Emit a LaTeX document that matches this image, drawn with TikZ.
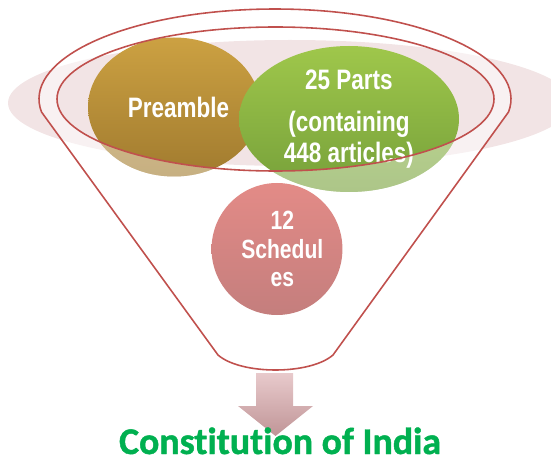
\documentclass[tikz,border=0pt]{standalone}
\usepackage{fontspec}
\usetikzlibrary{shapes.geometric,calc}
\newfontfamily\labfont[FakeStretch=0.8]{Liberation Sans}
\newfontfamily\ttlfont[Ligatures=CommonOff, FakeBold=1.2]{Carlito Bold}
\definecolor{funred}{HTML}{C0504D}
\definecolor{bgpink}{HTML}{F2E4E5}
\definecolor{preT}{HTML}{CCA142}
\definecolor{preB}{HTML}{A17B2F}
\definecolor{grnT}{HTML}{9FC74B}
\definecolor{grnB}{HTML}{76A03A}
\definecolor{schT}{HTML}{E38B87}
\definecolor{schB}{HTML}{C47E7D}
\definecolor{ttlgreen}{HTML}{00B050}
\definecolor{arrT}{HTML}{E8CACC}
\definecolor{arrB}{HTML}{C09597}
\def\u{0.02cm}
\tikzset{
  blob/.style={ellipse, draw=none, inner sep=0pt, text=white, align=center,
    font=\labfont\bfseries\fontsize{16pt}{18pt}\selectfont},
  funnelline/.style={draw=funred, line width=0.9pt, line join=round},
}
\begin{document}
\begin{tikzpicture}[x=0.02cm, y=-0.02cm]
\useasboundingbox (0,0) rectangle (551,459);
% background pink ellipse
\fill[bgpink] (290,103) ellipse [x radius=282*\u, y radius=63*\u];
% funnel geometry
\coordinate (ic) at (275.5,99);
\coordinate (fl) at (41.5,112);
\coordinate (fr) at (508.5,112);
\coordinate (bl) at (218,355);
\coordinate (br) at (333,355);
% lighter ring of the funnel rim
\fill[white, fill opacity=0.5, even odd rule]
  (fl) arc[start angle=188.3, end angle=-8.3, x radius=236*\u, y radius=90*\u]
  -- (br) .. controls (310,375) and (241,375) .. (bl) -- cycle
  (ic) ellipse [x radius=218.5*\u, y radius=72*\u];
% shapes
\node[blob, top color=preT, bottom color=preB, minimum width=172*\u, minimum height=139*\u]
  (pre) at (174,107) {\hspace*{5pt}Preamble};
\node[blob, top color=grnT, bottom color=grnB, minimum width=220*\u, minimum height=146*\u]
  (parts) at (349,119) {25 Parts\\[6pt](containing\\448 articles)};
% paler parts outside the inner rim
\begin{scope}
  \clip (pre.center) ellipse [x radius=86*\u, y radius=69.5*\u];
  \fill[white, fill opacity=0.4, even odd rule] (ic) ellipse [x radius=218.5*\u, y radius=72*\u]
    (-10,-10) rectangle (600,500);
\end{scope}
\begin{scope}
  \clip (parts.center) ellipse [x radius=110*\u, y radius=73*\u];
  \fill[white, fill opacity=0.4, even odd rule] (ic) ellipse [x radius=218.5*\u, y radius=72*\u]
    (-10,-10) rectangle (600,500);
\end{scope}
% funnel outline
\draw[funnelline]
  (fl) arc[start angle=188.3, end angle=-8.3, x radius=236*\u, y radius=90*\u]
  -- (br) .. controls (310,375) and (241,375) .. (bl) -- cycle;
\draw[funnelline] (ic) ellipse [x radius=218.5*\u, y radius=72*\u];
% schedules
\node[blob, top color=schT, bottom color=schB, minimum width=124*\u, minimum height=132*\u,
  font=\labfont\bfseries\fontsize{15pt}{16.4pt}\selectfont]
  (sch) at (277,249) {\hspace*{6pt}12\\\hspace*{6pt}Schedul\\\hspace*{6pt}es};
% arrow
\coordinate (atop) at (274.5,373);
\coordinate (atip) at (275.5,436);
\shade[top color=arrT, bottom color=arrB]
  ($(atop)+(-18.5,0)$) -- ($(atop)+(18.5,0)$) -- (293,406) -- (313,406) -- (atip) -- (238,406) -- (256,406) -- cycle;
% title
\node[font=\ttlfont\fontsize{21.5pt}{24pt}\selectfont, text=ttlgreen, anchor=base, inner sep=0pt]
  (ttl) at (280,454) {Constitution of India};
\end{tikzpicture}
\end{document}
